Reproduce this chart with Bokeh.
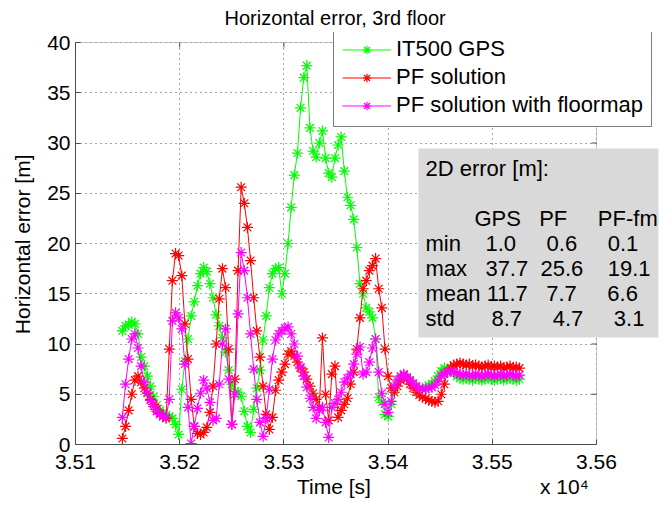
from bokeh.plotting import figure
from bokeh.models import (FixedTicker, Legend, LegendItem, Label, BoxAnnotation,
                          Range1d, ColumnDataSource)
from bokeh.embed import file_html
from bokeh.resources import INLINE

# ---------------- data ----------------
time_s = list(range(35145, 35527, 3))  # sample times [s], 128 samples

gps = [11.3, 11.8, 11.9, 12.2, 12.0, 11.0, 8.7, 7.8,
       6.8, 5.8, 4.8, 3.9, 3.4, 3.1, 2.9, 2.8,
       2.6, 2.0, 1.0, 5.5, 8.3, 10.5, 12.8, 14.2,
       15.8, 17.0, 17.6, 17.2, 16.0, 14.6, 12.9, 11.8,
       10.6, 9.2, 7.4, 6.0, 5.3, 5.2, 4.8, 3.3,
       1.8, 1.2, 3.5, 5.6, 7.4, 10.4, 12.8, 15.6,
       17.0, 17.5, 17.6, 15.0, 17.0, 20.0, 23.6, 26.8,
       29.0, 33.5, 36.5, 37.7, 31.5, 29.2, 28.6, 30.0,
       31.2, 28.5, 27.0, 26.6, 28.5, 29.8, 30.6, 27.2,
       24.6, 23.8, 22.4, 19.6, 16.0, 15.0, 13.6, 13.2,
       12.6, 10.5, 4.7, 4.2, 3.0, 2.8, 4.0, 5.4,
       6.2, 6.6, 6.9, 6.6, 6.3, 6.0, 5.8, 5.6,
       5.6, 5.7, 5.9, 6.0, 6.3, 6.8, 7.3, 7.6,
       7.5, 7.4, 7.2, 6.8, 6.6, 6.5, 6.6, 6.5,
       6.4, 6.6, 6.5, 6.4, 6.5, 6.6, 6.5, 6.4,
       6.5, 6.6, 6.4, 6.5, 6.6, 6.5, 6.4, 6.5]

pf = [0.6, 1.8, 3.4, 5.0, 6.4, 6.8, 6.2, 5.6,
      5.1, 4.5, 4.0, 3.5, 3.1, 2.8, 2.6, 9.5,
      16.3, 19.0, 18.8, 16.8, 12.0, 8.5, 4.5, 1.8,
      1.1, 1.0, 1.2, 1.7, 3.2, 5.8, 10.0, 14.5,
      17.5, 15.6, 9.5, 2.0, 6.5, 17.3, 25.6, 24.0,
      21.6, 18.3, 14.6, 11.3, 8.7, 5.8, 3.0, 1.5,
      2.7, 5.4, 6.4, 7.2, 8.0, 9.0, 9.3, 8.8,
      8.2, 7.6, 7.2, 6.5, 5.8, 5.1, 4.5, 3.7,
      10.6, 5.0, 2.4, 7.0, 7.8, 2.7, 3.4, 4.0,
      4.6, 6.0, 7.2, 9.5, 12.6, 15.5, 16.3, 17.3,
      17.8, 18.5, 15.5, 13.6, 9.5, 6.8, 5.6, 5.2,
      5.8, 6.4, 6.9, 6.5, 6.0, 5.6, 5.2, 4.9,
      4.7, 4.6, 4.4, 4.3, 4.2, 4.3, 5.0, 6.0,
      7.2, 7.6, 7.9, 8.0, 8.1, 8.0, 7.9, 8.0,
      7.8, 7.9, 7.8, 7.7, 7.8, 7.9, 7.7, 7.8,
      7.7, 7.8, 7.6, 7.7, 7.8, 7.6, 7.7, 7.6]

pf_fm = [2.7, 6.0, 8.5, 10.5, 11.0, 9.6, 7.8, 6.2,
         5.2, 4.4, 3.8, 3.3, 3.0, 2.8, 2.7, 4.5,
         12.3, 13.1, 12.6, 11.5, 8.0, 3.7, 0.1, 1.8,
         3.6, 5.1, 6.4, 5.6, 4.2, 2.4, 2.6, 6.0,
         10.0, 11.5, 6.5, 2.0, 5.0, 13.0, 19.1, 17.3,
         14.6, 11.0, 7.5, 4.5, 2.2, 0.8, 2.6, 5.5,
         8.5, 10.4, 11.0, 11.3, 11.6, 11.7, 11.0, 10.0,
         8.8, 7.7, 6.8, 5.7, 4.6, 3.7, 2.6, 3.4,
         3.7, 2.2, 0.7, 3.7, 4.1, 4.5, 5.2, 6.2,
         6.6, 7.0, 8.0, 9.0, 9.7, 7.0, 7.2, 8.2,
         9.6, 10.5, 7.2, 5.1, 4.0, 3.2, 4.3, 5.8,
         6.4, 6.8, 7.0, 6.7, 6.4, 6.1, 5.8, 5.6,
         5.5, 5.5, 5.6, 5.7, 5.9, 6.3, 6.8, 7.1,
         7.2, 7.3, 7.2, 7.1, 7.0, 6.9, 7.0, 6.9,
         6.8, 7.0, 6.9, 6.8, 6.9, 7.0, 6.9, 6.8,
         6.9, 7.0, 6.8, 6.9, 7.0, 6.9, 6.8, 6.9]

series_names = ["IT500 GPS", "PF solution", "PF solution with floormap"]
series_colors = ["#00ff00", "#ff0000", "#ff00ff"]

x_ticks = [35100, 35200, 35300, 35400, 35500, 35600]
x_tick_labels = ["3.51", "3.52", "3.53", "3.54", "3.55", "3.56"]
y_ticks = [0, 5, 10, 15, 20, 25, 30, 35, 40]

stats_title = "2D error [m]:"
stats_cols = ["GPS", "PF", "PF-fm"]
stats_rows = ["min", "max", "mean", "std"]
stats_vals = [["1.0", "0.6", "0.1"],
              ["37.7", "25.6", "19.1"],
              ["11.7", "7.7", "6.6"],
              ["8.7", "4.7", "3.1"]]

# ---------------- figure ----------------
FONT = "Liberation Sans"
NB = "\u00a0"
def pad(n):
    return NB * n

X0, X1 = x_ticks[0], x_ticks[-1]
Y0, Y1 = y_ticks[0], y_ticks[-1]
# frame is a little larger than the axes box (to the right and above) so that
# the legend and the statistics box, which stick out of the box, are not clipped
p = figure(width=670, height=506,
           x_range=Range1d(X0, X0 + (X1 - X0) * 583 / 521),
           y_range=Range1d(Y0, Y1 * 412 / 402),
           output_backend="svg", toolbar_location=None,
           min_border_left=75, min_border_right=12,
           min_border_top=32, min_border_bottom=62,
           title="Horizontal error, 3rd floor")
p.background_fill_color = "white"
p.border_fill_color = "white"
p.outline_line_color = None

p.title.align = "left"
p.title.offset = 149
p.title.text_font = FONT
p.title.text_font_size = "20px"
p.title.text_font_style = "normal"
p.title.text_color = "black"
p.title.standoff = 7

xt = FixedTicker(ticks=x_ticks)
yt = FixedTicker(ticks=y_ticks)

for ax in p.xaxis:
    ax.ticker = xt
    ax.bounds = (X0, X1)
    ax.major_label_overrides = {t: s for t, s in zip(x_ticks, x_tick_labels)}
    ax.axis_label = pad(26) + "Time [s]" + pad(29) + "x 10\u2074"
    ax.axis_label_standoff = 3
    ax.major_label_standoff = 10
for ax in p.yaxis:
    ax.ticker = yt
    ax.bounds = (Y0, Y1)
    ax.axis_label = "Horizontal error [m]" + pad(2)
    ax.axis_label_standoff = 10
    ax.major_label_standoff = 5

for ax in list(p.xaxis) + list(p.yaxis):
    ax.major_label_text_font = FONT
    ax.major_label_text_font_size = "21px"
    ax.major_label_text_color = "black"
    ax.axis_label_text_font = FONT
    ax.axis_label_text_font_size = "21px"
    ax.axis_label_text_font_style = "normal"
    ax.axis_label_text_color = "black"
    ax.axis_line_color = "#4d4d4d"
    ax.major_tick_line_color = "#4d4d4d"
    ax.major_tick_in = 5
    ax.major_tick_out = 0
    ax.minor_tick_line_color = None

p.xgrid.ticker = xt
p.ygrid.ticker = yt
for g in (p.xgrid, p.ygrid):
    g.grid_line_color = "#4a4a4a"
    g.grid_line_dash = "1 4"
    g.grid_line_width = 1

# white masks hide the grid outside the axes box (drawn above grid, below data)
p.add_layout(BoxAnnotation(left=X1, right=X1 + 1000, bottom=Y0 - 10, top=Y1 + 10,
                           fill_color="white", fill_alpha=1.0, line_color=None,
                           level="underlay"))
p.add_layout(BoxAnnotation(left=X0 - 1000, right=X1 + 1000, bottom=Y1, top=Y1 + 10,
                           fill_color="white", fill_alpha=1.0, line_color=None,
                           level="underlay"))

# box ticks on the top and right edges of the axes box
p.segment(x0=x_ticks, y0=[Y1] * len(x_ticks), x1=x_ticks, y1=[Y1 - 0.5] * len(x_ticks),
          line_color="#4d4d4d", line_width=1)
p.segment(x0=[X1] * len(y_ticks), y0=y_ticks, x1=[X1 - 4.8] * len(y_ticks), y1=y_ticks,
          line_color="#4d4d4d", line_width=1)

# ---------------- series ----------------
src = ColumnDataSource(dict(t=time_s, gps=gps, pf=pf, pf_fm=pf_fm))
items = []
for col, name, color in zip(["gps", "pf", "pf_fm"], series_names, series_colors):
    ln = p.line("t", col, source=src, line_color=color, line_width=1)
    sc = p.scatter("t", col, source=src, marker="asterisk", size=11,
                   line_color=color, line_width=1.2)
    items.append(LegendItem(label=name, renderers=[ln, sc]))

# axes box outline
p.add_layout(BoxAnnotation(left=X0, right=X1, bottom=Y0, top=Y1,
                           fill_alpha=0.0, line_color="#4d4d4d", line_width=1,
                           level="annotation"))

legend = Legend(items=items, location=(258, 317),
                label_text_font=FONT, label_text_font_size="22px",
                label_text_color="black",
                glyph_width=49, glyph_height=21, label_height=21,
                label_standoff=5, spacing=2, padding=8, margin=0,
                border_line_color="black", border_line_width=1,
                background_fill_color="white", background_fill_alpha=1.0)
p.add_layout(legend, "center")

# ---------------- statistics box ----------------
lines = [stats_title, NB,
         pad(8) + stats_cols[0] + pad(3) + stats_cols[1] + pad(5) + stats_cols[2],
         stats_rows[0] + pad(4) + stats_vals[0][0] + pad(5) + stats_vals[0][1] + pad(5) + stats_vals[0][2],
         stats_rows[1] + pad(3) + stats_vals[1][0] + pad(2) + stats_vals[1][1] + pad(4) + stats_vals[1][2],
         stats_rows[2] + pad(1) + stats_vals[2][0] + pad(3) + stats_vals[2][1] + pad(5) + stats_vals[2][2],
         stats_rows[3] + pad(6) + stats_vals[3][0] + pad(5) + stats_vals[3][1] + pad(5) + stats_vals[3][2]]
stats = Label(x=343, y=296, x_units="screen", y_units="screen",
              text="\n".join(lines), text_font=FONT, text_font_size="22px",
              text_color="black", text_align="left", text_baseline="top",
              text_line_height=1.0,
              background_fill_color="#d9d9d9", background_fill_alpha=1.0,
              padding=7)
p.add_layout(stats)

open("out.html", "w").write(file_html(p, INLINE))
